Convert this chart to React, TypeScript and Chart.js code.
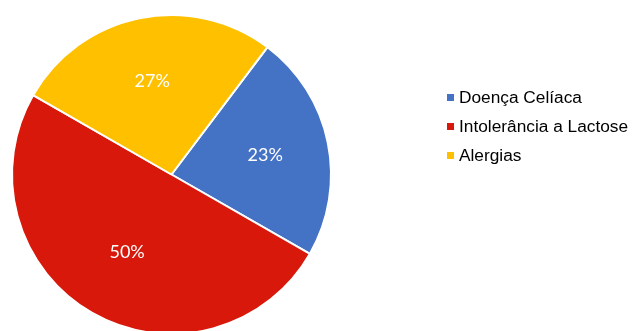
import React, { useEffect, useRef } from "react";
import { Chart, registerables } from "chart.js";

Chart.register(...registerables);

const categories = ["Doença Celíaca", "Intolerância a Lactose", "Alergias"];
const values = [23, 50, 27];
const colors = ["#4472C4", "#D7180A", "#FFC000"];

const percentLabels = {
  id: "percentLabels",
  afterDatasetsDraw(chart: any) {
    const ctx = chart.ctx;
    const meta = chart.getDatasetMeta(0);
    const data = chart.data.datasets[0].data as number[];
    const total = data.reduce((a, b) => a + b, 0);
    ctx.save();
    ctx.fillStyle = "#ffffff";
    ctx.font = "18px Lato";
    ctx.textAlign = "center";
    ctx.textBaseline = "middle";
    meta.data.forEach((arc: any, i: number) => {
      const { x, y, startAngle, endAngle, outerRadius } = arc.getProps(
        ["x", "y", "startAngle", "endAngle", "outerRadius"],
        true
      );
      const mid = (startAngle + endAngle) / 2;
      const r = outerRadius * (data[i] / total >= 0.5 ? 0.56 : 0.6);
      const pct = Math.round((data[i] / total) * 100);
      ctx.fillText(pct + "%", x + Math.cos(mid) * r, y + Math.sin(mid) * r);
    });
    ctx.restore();
  },
};

export default function App() {
  const ref = useRef<HTMLCanvasElement>(null);
  useEffect(() => {
    document.body.style.margin = "0";
    const chart = new Chart(ref.current!, {
      type: "pie",
      data: {
        labels: categories,
        datasets: [
          {
            data: values,
            backgroundColor: colors,
            borderColor: "#ffffff",
            borderWidth: 2,
          },
        ],
      },
      options: {
        animation: false,
        responsive: false,
        rotation: 37,
        layout: { padding: { left: 11, right: 300, top: 14, bottom: 11 } },
        plugins: {
          legend: { display: false },
          tooltip: { enabled: false },
        },
      },
      plugins: [percentLabels],
    });
    return () => chart.destroy();
  }, []);

  return (
    <div
      style={{
        position: "relative",
        width: 632,
        height: 331,
        overflow: "hidden",
        background: "#fff",
      }}
    >
      <canvas
        ref={ref}
        width={632}
        height={346}
        style={{ position: "absolute", left: 0, top: 0, width: 632, height: 346 }}
      />
      <div
        style={{
          position: "absolute",
          left: 447,
          top: 83,
          fontFamily: "'Liberation Sans', Arial, sans-serif",
          fontSize: 17.3,
          color: "#000",
        }}
      >
        {categories.map((c, i) => (
          <div
            key={c}
            style={{ display: "flex", alignItems: "center", height: 29, whiteSpace: "nowrap" }}
          >
            <span
              style={{
                display: "inline-block",
                width: 7,
                height: 7,
                background: colors[i],
                marginRight: 5,
                flexShrink: 0,
              }}
            />
            <span>{c}</span>
          </div>
        ))}
      </div>
    </div>
  );
}
